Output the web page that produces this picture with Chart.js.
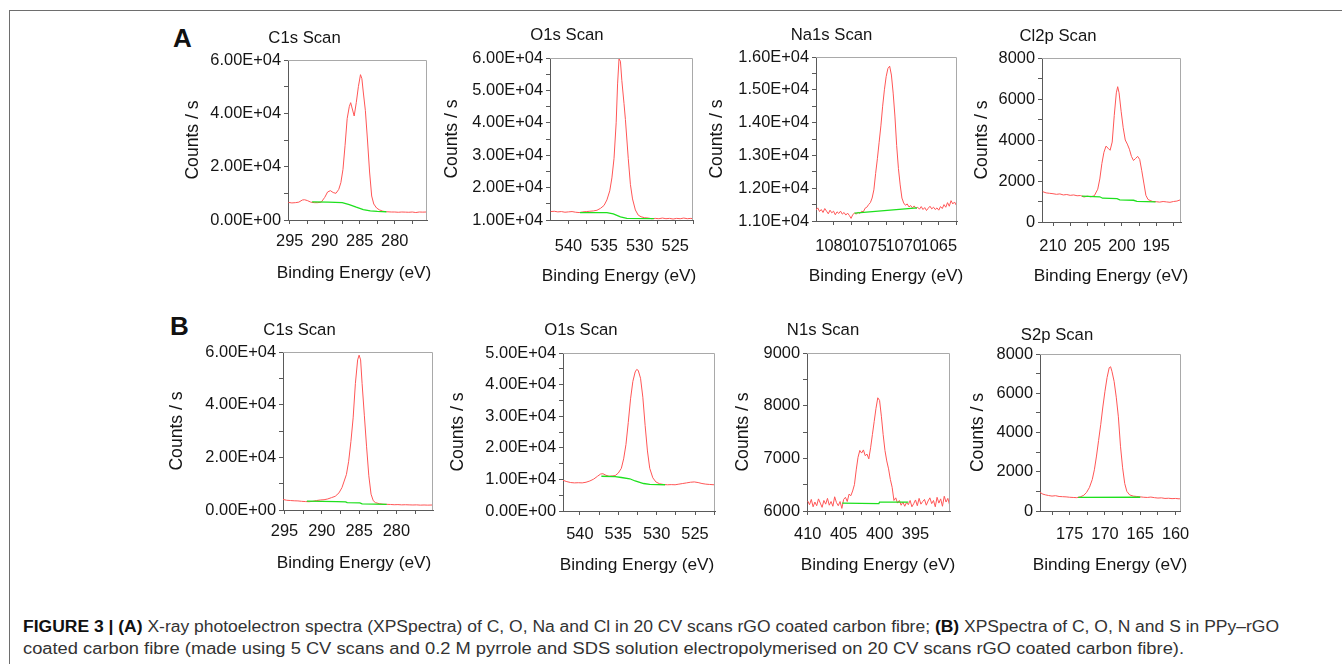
<!DOCTYPE html>
<html><head><meta charset="utf-8">
<script src="https://cdn.jsdelivr.net/npm/chart.js@4.4.1/dist/chart.umd.min.js"></script>
<style>
html,body{margin:0;padding:0;background:#fff;}
body{width:1342px;height:664px;overflow:hidden;position:relative;font-family:"Liberation Sans",Arial,sans-serif;}
.frame{position:absolute;left:9px;top:10px;width:1340px;height:660px;border-top:1px solid #6e6e6e;border-left:1px solid #6e6e6e;}
canvas{position:absolute;}
.letter{position:absolute;font:bold 26px/1 "Liberation Sans",Arial,sans-serif;color:#111;}
.cap{position:absolute;left:23px;font:16px/1 "Liberation Sans Narrow","Liberation Sans",Arial,sans-serif;color:#333;white-space:nowrap;transform-origin:0 0;}
.cap b{color:#111;}
</style></head><body>
<div class="frame"></div>
<div class="letter" style="left:173px;top:25px;">A</div>
<div class="letter" style="left:170px;top:313px;">B</div>
<div class="cap" id="cap1" data-w="1256" style="top:619px;"><b>FIGURE 3 | (A)</b> X-ray photoelectron spectra (XPSpectra) of C, O, Na and Cl in 20 CV scans rGO coated carbon fibre; <b>(B)</b> XPSpectra of C, O, N and S in PPy–rGO</div>
<div class="cap" id="cap2" data-w="1161" style="top:641px;">coated carbon fibre (made using 5 CV scans and 0.2 M pyrrole and SDS solution electropolymerised on 20 CV scans rGO coated carbon fibre).</div>
<script>
// ---------------- DATA ----------------
const xAxisTitle = 'Binding Energy (eV)';
const yAxisTitle = 'Counts / s';

// Panel A1 : C1s (rGO)
const a1Title = 'C1s Scan';
const a1Energy = [295.2,294.7,294.2,293.7,293.2,292.9,292.5,292.0,291.5,291.0,290.5,290.0,289.6,289.2,288.8,288.4,288.0,287.7,287.4,287.1,286.8,286.5,286.3,286.1,285.8,285.5,285.2,284.9,284.7,284.5,284.2,283.9,283.6,283.3,283.0,282.6,282.2,281.7,281.2,280.5,280.0,279.5,279.0,278.5,278.0,277.5,277.0,276.5,276.0,275.5];
const a1Counts = [6600,6400,6500,6700,7500,7600,7300,6700,6500,6500,6700,8500,10500,11000,10300,10000,11500,14000,19000,28000,38000,42500,44000,42000,39000,44000,50000,54500,53000,48000,41000,30000,18000,9000,6000,4500,3800,3300,3100,3000,3000,2900,3000,2950,2900,3000,2800,3000,2950,3000];
const a1BgEnergy = [291.8,289.5,287.5,286.5,285.5,284.5,283.5,282.5,281.2];
const a1BgCounts = [6800,6700,6500,5800,4800,3900,3400,3200,3100];
const a1XRange = [275.4, 295.25];
const a1XTicks = [295,292.5,290,287.5,285,282.5,280,277.5];
const a1XLabels = ['295','','290','','285','','280',''];
const a1YTicks = [0,10000,20000,30000,40000,50000,60000];
const a1YLabels = ['0.00E+00','','2.00E+04','','4.00E+04','','6.00E+04'];

// Panel A2 : O1s (rGO)
const a2Title = 'O1s Scan';
const a2Energy = [542.5,542.0,541.5,541.0,540.5,540.0,539.5,539.0,538.5,538.0,537.5,537.0,536.5,536.0,535.5,535.0,534.6,534.2,533.9,533.6,533.3,533.1,532.9,532.7,532.5,532.2,532.0,531.6,531.3,531.0,530.6,530.2,529.8,529.3,528.8,528.3,527.8,527.3,526.8,526.3,525.8,525.3,524.8,524.3,523.8,523.3,522.8,522.5];
const a2Counts = [12600,12700,12500,12600,12400,12500,12600,12400,12300,12500,12600,12700,12800,13000,13600,14500,16200,19000,23000,29000,40000,52000,59700,59000,53000,46000,41000,29000,21000,16500,13100,11500,11000,10700,10600,10400,10500,10400,10600,10400,10500,10300,10500,10400,10600,10400,10500,10400];
const a2BgEnergy = [538.4,534.6,533.7,532.7,531.8,528.0];
const a2BgCounts = [12300,12300,11900,11000,10500,10400];
const a2XRange = [522.5, 542.6];
const a2XTicks = [540,537.5,535,532.5,530,527.5,525,522.5];
const a2XLabels = ['540','','535','','530','','525',''];
const a2YTicks = [10000,15000,20000,25000,30000,35000,40000,45000,50000,55000,60000];
const a2YLabels = ['1.00E+04','','2.00E+04','','3.00E+04','','4.00E+04','','5.00E+04','','6.00E+04'];

// Panel A3 : Na1s (rGO)
const a3Title = 'Na1s Scan';
const a3Energy = [1082.50,1082.25,1082.00,1081.75,1081.50,1081.25,1081.00,1080.75,1080.50,1080.25,1080.00,1079.75,1079.50,1079.25,1079.00,1078.75,1078.50,1078.25,1078.00,1077.75,1077.50,1077.25,1077.00,1076.75,1076.50,1076.25,1076.00,1075.75,1075.50,1075.25,1075.00,1074.75,1074.50,1074.25,1074.00,1073.75,1073.50,1073.25,1073.00,1072.75,1072.50,1072.25,1072.00,1071.75,1071.50,1071.25,1071.00,1070.75,1070.50,1070.25,1070.00,1069.75,1069.50,1069.25,1069.00,1068.75,1068.50,1068.25,1068.00,1067.75,1067.50,1067.25,1067.00,1066.75,1066.50,1066.25,1066.00,1065.75,1065.50,1065.25,1065.00,1064.75,1064.50,1064.25,1064.00,1063.75,1063.50,1063.25,1063.00,1062.75,1062.50];
const a3Counts = [11330,11400,11290,11350,11260,11380,11300,11220,11330,11250,11300,11190,11280,11230,11300,11210,11260,11180,11240,11170,11080,11200,11240,11210,11270,11230,11300,11280,11390,11420,11500,11560,11700,11950,12450,12900,13400,13900,14500,15000,15400,15650,15720,15450,14900,14200,13300,12600,12100,11700,11550,11480,11520,11430,11470,11400,11460,11380,11420,11360,11440,11350,11410,11320,11390,11450,11370,11420,11350,11400,11330,11440,11380,11500,11420,11560,11450,11620,11520,11580,11480];
const a3BgEnergy = [1077.0,1068.1];
const a3BgCounts = [11240,11400];
const a3XRange = [1062.4, 1082.5];
const a3XTicks = [1080,1077.5,1075,1072.5,1070,1067.5,1065,1062.5];
const a3XLabels = ['1080','','1075','','1070','','1065',''];
const a3YTicks = [11000,11500,12000,12500,13000,13500,14000,14500,15000,15500,16000];
const a3YLabels = ['1.10E+04','','1.20E+04','','1.30E+04','','1.40E+04','','1.50E+04','','1.60E+04'];

// Panel A4 : Cl2p (rGO)
const a4Title = 'Cl2p Scan';
const a4Energy = [211.5,211.0,210.5,210.0,209.5,209.0,208.5,208.0,207.5,207.0,206.5,206.0,205.5,205.0,204.5,204.0,203.5,203.2,202.9,202.6,202.3,202.0,201.7,201.4,201.1,200.8,200.6,200.4,200.1,199.8,199.5,199.2,198.9,198.6,198.3,198.0,197.7,197.4,197.1,196.8,196.5,196.2,195.9,195.5,195.0,194.5,194.0,193.5,193.0,192.5,192.0,191.5];
const a4Counts = [1480,1420,1400,1380,1350,1370,1320,1340,1300,1320,1280,1290,1220,1260,1230,1280,1600,2100,2850,3400,3700,3600,3500,3900,5200,6300,6600,6300,5400,4600,4000,3800,3550,3200,3000,3100,3200,3050,2500,1900,1300,1100,1050,1000,990,970,1000,980,960,1000,1020,1080];
const a4BgEnergy = [205.8,203.2,202.8,200.7,200.3,198.3,197.8,195.1];
const a4BgCounts = [1260,1230,1160,1140,1080,1060,1010,980];
const a4XRange = [191.4, 211.6];
const a4XTicks = [210,207.5,205,202.5,200,197.5,195,192.5];
const a4XLabels = ['210','','205','','200','','195',''];
const a4YTicks = [0,1000,2000,3000,4000,5000,6000,7000,8000];
const a4YLabels = ['0','','2000','','4000','','6000','','8000'];

// Panel B1 : C1s (PPy-rGO)
const b1Title = 'C1s Scan';
const b1Energy = [295.2,294.7,294.2,293.7,293.2,292.7,292.2,291.7,291.2,290.7,290.2,289.7,289.2,288.7,288.2,287.7,287.3,287.0,286.7,286.4,286.1,285.8,285.5,285.2,285.0,284.8,284.6,284.3,284.0,283.7,283.4,283.1,282.8,282.3,281.8,281.3,280.8,280.3,279.8,279.3,278.8,278.3,277.8,277.3,276.8,276.3,275.8,275.2];
const b1Counts = [4000,3700,3600,3500,3450,3300,3200,3150,3300,3600,3800,3900,4200,4700,5200,6500,8500,11000,13500,18500,26000,35000,48000,57000,58800,57000,48000,36000,24000,13000,6000,3500,2800,2400,2200,2150,2100,2000,2050,1950,2000,1950,1900,1950,1850,1900,1850,1900];
const b1BgEnergy = [292.0,290.0,288.0,286.8,286.6,284.9,284.6,281.3];
const b1BgCounts = [3350,3250,3200,3100,2780,2700,2300,2150];
const b1XRange = [275.1, 295.2];
const b1XTicks = [295,292.5,290,287.5,285,282.5,280,277.5];
const b1XLabels = ['295','','290','','285','','280',''];
const b1YTicks = [0,10000,20000,30000,40000,50000,60000];
const b1YLabels = ['0.00E+00','','2.00E+04','','4.00E+04','','6.00E+04'];

// Panel B2 : O1s (PPy-rGO)
const b2Title = 'O1s Scan';
const b2Energy = [542.2,541.7,541.2,540.7,540.2,539.7,539.2,538.7,538.2,537.7,537.3,537.0,536.6,536.2,535.8,535.4,535.0,534.6,534.3,534.0,533.7,533.4,533.1,532.8,532.6,532.4,532.1,531.8,531.5,531.2,530.9,530.5,530.1,529.6,529.1,528.6,528.1,527.6,527.1,526.6,526.1,525.6,525.1,524.6,524.1,523.6,523.1,522.5];
const b2Counts = [9700,9300,9000,8900,8950,8900,9100,9500,10100,11000,11700,11800,11300,11000,11100,11200,12000,13500,16500,21000,28000,35500,41000,44000,44800,44500,42000,36000,27000,19000,13500,10500,9200,8600,8400,8300,8350,8300,8500,8700,8900,9100,9200,9000,8700,8500,8400,8300];
const b2BgEnergy = [537.2,535.4,534.6,533.5,532.8,531.7,530.9,528.9];
const b2BgCounts = [11000,10900,10600,10200,9500,8700,8400,8300];
const b2XRange = [522.4, 542.2];
const b2XTicks = [540,537.5,535,532.5,530,527.5,525,522.5];
const b2XLabels = ['540','','535','','530','','525',''];
const b2YTicks = [0,5000,10000,15000,20000,25000,30000,35000,40000,45000,50000];
const b2YLabels = ['0.00E+00','','1.00E+04','','2.00E+04','','3.00E+04','','4.00E+04','','5.00E+04'];

// Panel B3 : N1s (PPy-rGO)
const b3Title = 'N1s Scan';
const b3Energy = [410.00,409.75,409.50,409.25,409.00,408.75,408.50,408.25,408.00,407.75,407.50,407.25,407.00,406.75,406.50,406.25,406.00,405.75,405.50,405.25,405.00,404.75,404.50,404.25,404.00,403.75,403.50,403.25,403.00,402.75,402.50,402.25,402.00,401.75,401.50,401.25,401.00,400.75,400.50,400.25,400.00,399.75,399.50,399.25,399.00,398.75,398.50,398.25,398.00,397.75,397.50,397.25,397.00,396.75,396.50,396.25,396.00,395.75,395.50,395.25,395.00,394.75,394.50,394.25,394.00,393.75,393.50,393.25,393.00,392.75,392.50,392.25,392.00,391.75,391.50,391.25,391.00,390.75,390.50,390.25];
const b3Counts = [6190,6120,6220,6080,6170,6100,6230,6150,6070,6200,6130,6240,6110,6180,6090,6270,6160,6100,6180,6050,6220,6260,6180,6320,6290,6380,6500,6780,7020,7150,7100,7160,7050,7080,6990,7200,7450,7700,7950,8150,8100,7800,7450,7150,6950,6800,6600,6450,6200,6250,6150,6200,6110,6170,6090,6160,6120,6200,6080,6140,6210,6100,6240,6130,6180,6220,6110,6190,6250,6140,6200,6080,6260,6150,6230,6090,6280,6170,6240,6110];
const b3BgEnergy = [405.2,400.1,400.0,396.0];
const b3BgCounts = [6150,6140,6170,6170];
const b3XRange = [390.2, 410.1];
const b3XTicks = [410,407.5,405,402.5,400,397.5,395,392.5];
const b3XLabels = ['410','','405','','400','','395',''];
const b3YTicks = [6000,6500,7000,7500,8000,8500,9000];
const b3YLabels = ['6000','','7000','','8000','','9000'];

// Panel B4 : S2p (PPy-rGO)
const b4Title = 'S2p Scan';
const b4Energy = [179.2,178.8,178.4,178.0,177.5,177.0,176.5,176.0,175.5,175.0,174.5,174.0,173.5,173.0,172.6,172.2,171.8,171.5,171.2,170.9,170.6,170.3,170.0,169.7,169.4,169.2,169.0,168.7,168.4,168.1,167.8,167.5,167.2,166.9,166.5,166.0,165.5,165.0,164.5,164.0,163.5,163.0,162.5,162.0,161.5,161.0,160.5,160.0,159.5,159.2];
const b4Counts = [950,860,820,790,760,780,740,730,720,700,690,680,720,800,950,1200,1600,2100,2800,3600,4400,5300,6100,6800,7300,7350,7100,6600,5800,4800,3300,2200,1400,1000,820,760,740,720,700,690,710,680,660,670,640,650,630,640,620,640];
const b4BgEnergy = [173.8,165.0];
const b4BgCounts = [690,700];
const b4XRange = [159.25, 179.2];
const b4XTicks = [177.5,175,172.5,170,167.5,165,162.5,160];
const b4XLabels = ['','175','','170','','165','','160'];
const b4YTicks = [0,1000,2000,3000,4000,5000,6000,7000,8000];
const b4YLabels = ['0','','2000','','4000','','6000','','8000'];

// ---------------- LAYOUT / STYLE ----------------
const FONT = '"Liberation Sans", Arial, sans-serif';
const TICK_SIZE = 16.4, TITLE_SIZE = 16.7, XAXIS_SIZE = 17.3, YAXIS_SIZE = 17.6, LH = 1.2, TICK_LEN = 4;
const RED = '#ff5656', GREEN = '#1ee01e', INK = '#151515', AXIS_DARK = '#5a5a5a', AXIS_LIGHT = '#a9a9a9';

const panels = [
  {title:a1Title, e:a1Energy, c:a1Counts, be:a1BgEnergy, bc:a1BgCounts, xr:a1XRange, xt:a1XTicks, xl:a1XLabels, yt:a1YTicks, yl:a1YLabels,
   L:{plotL:288, plotR:427, plotT:60, plotB:220, titleX:305, titleY:38.3, yTitleX:193.3, xTitleY:273.3, xTitleX:354, xLabelY:241.7}},
  {title:a2Title, e:a2Energy, c:a2Counts, be:a2BgEnergy, bc:a2BgCounts, xr:a2XRange, xt:a2XTicks, xl:a2XLabels, yt:a2YTicks, yl:a2YLabels,
   L:{plotL:550, plotR:693, plotT:58, plotB:220, titleX:567, titleY:35, yTitleX:451.7, xTitleY:276, xTitleX:619, xLabelY:246.7}},
  {title:a3Title, e:a3Energy, c:a3Counts, be:a3BgEnergy, bc:a3BgCounts, xr:a3XRange, xt:a3XTicks, xl:a3XLabels, yt:a3YTicks, yl:a3YLabels,
   L:{plotL:816, plotR:957, plotT:57, plotB:221, titleX:832, titleY:35, yTitleX:716.7, xTitleY:276.7, xTitleX:886, xLabelY:246.7}},
  {title:a4Title, e:a4Energy, c:a4Counts, be:a4BgEnergy, bc:a4BgCounts, xr:a4XRange, xt:a4XTicks, xl:a4XLabels, yt:a4YTicks, yl:a4YLabels,
   L:{plotL:1042, plotR:1181, plotT:58, plotB:222, titleX:1058, titleY:36, yTitleX:981.7, xTitleY:276.7, xTitleX:1111, xLabelY:246.7}},
  {title:b1Title, e:b1Energy, c:b1Counts, be:b1BgEnergy, bc:b1BgCounts, xr:b1XRange, xt:b1XTicks, xl:b1XLabels, yt:b1YTicks, yl:b1YLabels,
   L:{plotL:283, plotR:433, plotT:352, plotB:510, titleX:300, titleY:330, yTitleX:176.7, xTitleY:563.3, xTitleX:354, xLabelY:531.7}},
  {title:b2Title, e:b2Energy, c:b2Counts, be:b2BgEnergy, bc:b2BgCounts, xr:b2XRange, xt:b2XTicks, xl:b2XLabels, yt:b2YTicks, yl:b2YLabels,
   L:{plotL:563, plotR:715, plotT:353, plotB:511, titleX:582, titleY:330.7, yTitleX:458.3, xTitleY:565, xTitleX:637, xLabelY:534}},
  {title:b3Title, e:b3Energy, c:b3Counts, be:b3BgEnergy, bc:b3BgCounts, xr:b3XRange, xt:b3XTicks, xl:b3XLabels, yt:b3YTicks, yl:b3YLabels,
   L:{plotL:807, plotR:950, plotT:353, plotB:511, titleX:823, titleY:330.7, yTitleX:743.3, xTitleY:565, xTitleX:878, xLabelY:534}},
  {title:b4Title, e:b4Energy, c:b4Counts, be:b4BgEnergy, bc:b4BgCounts, xr:b4XRange, xt:b4XTicks, xl:b4XLabels, yt:b4YTicks, yl:b4YLabels,
   L:{plotL:1040, plotR:1183, plotT:354, plotB:511, titleX:1057, titleY:335, yTitleX:978.3, xTitleY:565, xTitleX:1110, xLabelY:534}}
];

const framePlugin = {
  id: 'plotFrame',
  afterDraw(chart) {
    const {ctx, chartArea: a} = chart;
    ctx.save();
    ctx.strokeStyle = AXIS_LIGHT;
    ctx.lineWidth = 1;
    ctx.beginPath();
    ctx.moveTo(Math.round(a.left), Math.round(a.top) + 0.5);
    ctx.lineTo(Math.round(a.right) - 0.5, Math.round(a.top) + 0.5);
    ctx.lineTo(Math.round(a.right) - 0.5, Math.round(a.bottom));
    ctx.stroke();
    ctx.restore();
  }
};

// x-axis title drawn without Chart.js' maxWidth squeeze (the reference title is wider than the plot)
const xTitlePlugin = {
  id: 'xTitle',
  afterDraw(chart, args, opts) {
    const {ctx} = chart;
    ctx.save();
    ctx.font = opts.size + 'px ' + FONT;
    ctx.fillStyle = INK;
    ctx.textAlign = 'center';
    ctx.textBaseline = 'middle';
    ctx.fillText(opts.text, opts.x, opts.y);
    ctx.restore();
  }
};

function makePanel(p) {
  const L = p.L;
  const TL = TITLE_SIZE * LH, XL = XAXIS_SIZE * LH, YL = YAXIS_SIZE * LH, KL = TICK_SIZE * LH;
  const boxLeft = Math.min(2 * L.titleX - L.plotR, L.yTitleX - YL / 2);
  const cl = Math.floor(boxLeft);
  const ct = Math.floor(L.titleY - TL / 2);
  const W = Math.ceil(L.plotR + 16 - cl);
  const H = Math.ceil(L.xTitleY + XL / 2 + 2 - ct);
  const padRight = W - (L.plotR - cl);
  const yTitlePad = Math.max(0, L.yTitleX - YL / 2 - cl);
  const titlePadTop = (L.titleY - TL / 2) - ct;
  const titlePadBottom = (L.plotT - ct) - TL - titlePadTop;
  const xH = (ct + H) - L.plotB;
  const yW = L.plotL - cl;
  const xTickPad = L.xLabelY - L.plotB - TICK_LEN - KL / 2;

  const cv = document.createElement('canvas');
  cv.width = W; cv.height = H;
  cv.style.left = cl + 'px'; cv.style.top = ct + 'px';
  cv.style.width = W + 'px'; cv.style.height = H + 'px';
  document.body.appendChild(cv);

  const tickFont = {family: FONT, size: TICK_SIZE, lineHeight: LH};

  new Chart(cv, {
    type: 'line',
    data: {
      datasets: [
        {data: p.be.map((x, i) => ({x, y: p.bc[i]})), borderColor: GREEN, borderWidth: 1.3, pointRadius: 0, tension: 0, fill: false},
        {data: p.e.map((x, i) => ({x, y: p.c[i]})), borderColor: RED, borderWidth: 1, pointRadius: 0, tension: 0, fill: false}
      ]
    },
    options: {
      responsive: false, animation: false, events: [],
      layout: {padding: {left: 0, top: 0, bottom: 0, right: padRight}},
      plugins: {
        legend: {display: false},
        tooltip: {enabled: false},
        title: {display: true, text: p.title, color: INK, font: {family: FONT, size: TITLE_SIZE, weight: 'normal', lineHeight: LH},
                padding: {top: titlePadTop, bottom: titlePadBottom}},
        xTitle: {text: xAxisTitle, size: XAXIS_SIZE, x: L.xTitleX - cl, y: L.xTitleY - ct}
      },
      scales: {
        x: {
          type: 'linear', reverse: true, bounds: 'data', min: p.xr[0], max: p.xr[1],
          afterBuildTicks: s => { s.ticks = p.xt.map(v => ({value: v})); },
          afterFit: s => { s.height = xH; },
          ticks: {autoSkip: false, maxRotation: 0, minRotation: 0, padding: xTickPad, color: INK, font: tickFont,
                  callback: (v, i) => p.xl[i]},
          grid: {display: true, drawOnChartArea: false, drawTicks: true, tickLength: TICK_LEN, tickColor: AXIS_DARK, color: AXIS_DARK},
          border: {display: true, color: AXIS_DARK, width: 1},
          title: {display: false}
        },
        y: {
          type: 'linear', bounds: 'data', min: p.yt[0], max: p.yt[p.yt.length - 1],
          afterBuildTicks: s => { s.ticks = p.yt.map(v => ({value: v})); },
          afterFit: s => { s.width = yW; },
          ticks: {autoSkip: false, padding: 3, color: INK, font: tickFont, callback: (v, i) => p.yl[i]},
          grid: {display: true, drawOnChartArea: false, drawTicks: true, tickLength: TICK_LEN, tickColor: AXIS_DARK, color: AXIS_DARK},
          border: {display: true, color: AXIS_DARK, width: 1},
          title: {display: true, text: yAxisTitle, color: INK, font: {family: FONT, size: YAXIS_SIZE, lineHeight: LH}, padding: {top: yTitlePad, bottom: 0}}
        }
      }
    },
    plugins: [framePlugin, xTitlePlugin]
  });
}

panels.forEach(makePanel);

// fit caption lines to their measured widths in the reference
document.querySelectorAll('.cap').forEach(el => {
  const target = parseFloat(el.dataset.w);
  const w = el.getBoundingClientRect().width;
  if (w > 0) el.style.transform = 'scaleX(' + (target / w) + ')';
});
</script>
</body></html>
